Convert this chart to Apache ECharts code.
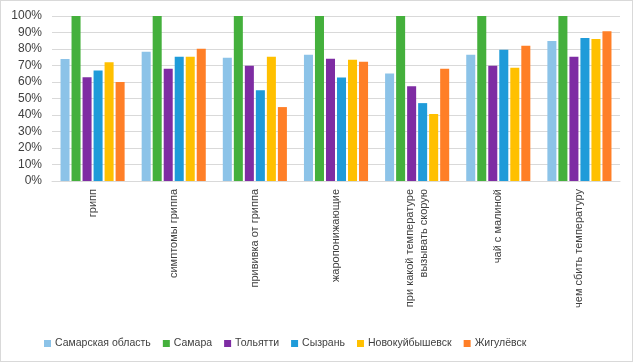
<!DOCTYPE html>
<html><head><meta charset="utf-8">
<script src="https://cdn.jsdelivr.net/npm/echarts@6/dist/echarts.min.js"></script>
<style>html,body{margin:0;padding:0;background:#fff}#c{width:633px;height:362px;box-sizing:border-box;border:1px solid #d9d9d9}</style>
</head><body><div id="c"></div>
<script>
const categories = ['грипп','симптомы гриппа','прививка от гриппа','жаропонижающие','при какой температуре\nвызывать скорую','чай с малиной','чем сбить температуру'];
const seriesNames = ['Самарская область','Самара','Тольятти','Сызрань','Новокуйбышевск','Жигулёвск'];
const samarskayaOblast = [74, 78.3, 74.7, 76.5, 65.1, 76.5, 84.9];
const samara = [100, 100, 100, 100, 100, 100, 100];
const tolyatti = [62.9, 68.1, 69.9, 74.1, 57.4, 69.9, 75.3];
const syzran = [66.9, 75.3, 55.0, 62.7, 47.2, 79.5, 86.7];
const novokuybyshevsk = [71.9, 75.3, 75.3, 73.5, 40.6, 68.7, 86.1];
const zhigulevsk = [60.0, 80.1, 44.8, 72.3, 68.1, 81.9, 90.8];
const colors = ['#8cc3e8','#44b03c','#7e2ca3','#1f9bd9','#ffc000','#ff7f27'];
const values = [samarskayaOblast, samara, tolyatti, syzran, novokuybyshevsk, zhigulevsk];
const font = 'Liberation Sans';
const chart = echarts.init(document.getElementById('c'));
chart.setOption({
  animation:false,
  color: colors,
  textStyle:{fontFamily:font},
  grid:{left:51,right:12,top:15,bottom:180,containLabel:false},
  legend:{
    bottom:7, left:38, itemWidth:7, itemHeight:7, itemGap:12, icon:'rect',
    textStyle:{fontFamily:font,fontSize:10.5,color:'#404040',padding:[0,0,0,-1]},
    data: seriesNames
  },
  xAxis:{
    type:'category', data:categories,
    axisLine:{lineStyle:{color:'#d9d9d9'}},
    axisTick:{show:false},
    axisLabel:{rotate:90, interval:0, fontSize:11, color:'#404040', fontFamily:font, margin:8, lineHeight:14}
  },
  yAxis:{
    type:'value', min:0, max:100, interval:10,
    axisLabel:{formatter:'{value}%', fontSize:12, color:'#404040', margin:10},
    splitLine:{lineStyle:{color:'#d9d9d9'}},
    axisLine:{show:false}, axisTick:{show:false}
  },
  series: seriesNames.map((n,i)=>({
    name:n, type:'bar', data:values[i], barGap:'22%', barCategoryGap:'21%'
  }))
});
</script></body></html>
